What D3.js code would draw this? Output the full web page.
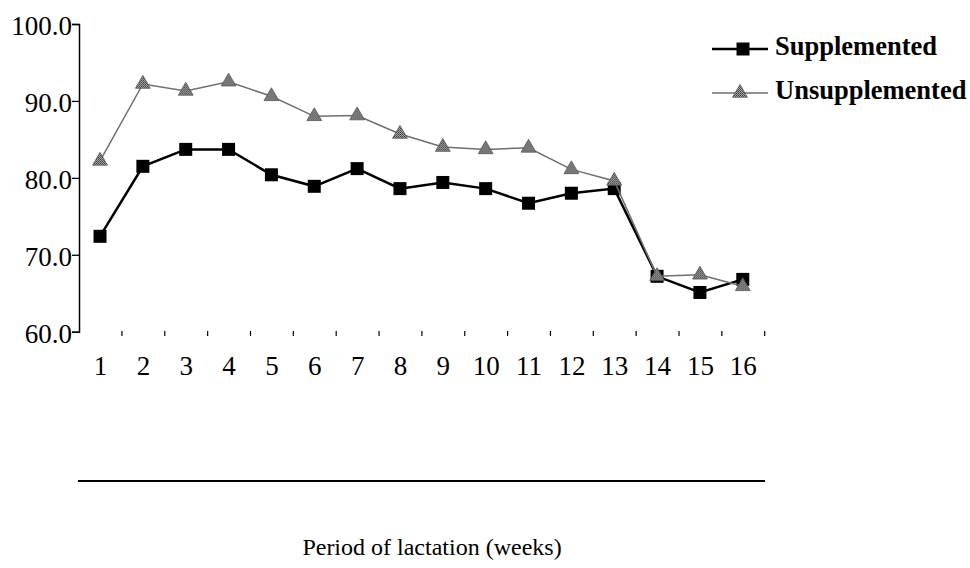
<!DOCTYPE html>
<html lang="en">
<head>
  <meta charset="UTF-8">
  <script src="https://cdn.jsdelivr.net/npm/d3@7"></script>
  <title>Period of lactation</title>
  <style>
    body { margin: 0; background: #fff; }
    text { font-family: "Liberation Serif", "Times New Roman", serif; fill: #000; }
  </style>
</head>
<body>
  <div id="chart"></div>
<script>
// values
var weeks = [1, 2, 3, 4, 5, 6, 7, 8, 9, 10, 11, 12, 13, 14, 15, 16];
var supplemented = [72.4, 81.5, 83.7, 83.7, 80.4, 78.9, 81.2, 78.6, 79.4, 78.6, 76.7, 78.0, 78.6, 67.2, 65.1, 66.8];
var unsupplemented = [82.2, 92.2, 91.3, 92.5, 90.6, 88.0, 88.1, 85.7, 84.0, 83.7, 83.9, 81.1, 79.6, 67.2, 67.4, 65.9];
var yTicks = [60, 70, 80, 90, 100];
var seriesNames = ["Supplemented", "Unsupplemented"];

var W = 970, H = 568;
var svg = d3.select("#chart").append("svg")
  .attr("width", W)
  .attr("height", H);

// dithered grey like the scanned triangles
var defs = svg.append("defs");
var pat = defs.append("pattern")
  .attr("id", "dots")
  .attr("width", 2).attr("height", 2)
  .attr("patternUnits", "userSpaceOnUse");
pat.append("rect").attr("width", 2).attr("height", 2).attr("fill", "#aaa");
pat.append("rect").attr("width", 1).attr("height", 1).attr("fill", "#333");
pat.append("rect").attr("x", 1).attr("y", 1).attr("width", 1).attr("height", 1).attr("fill", "#555");

var x = d3.scaleLinear().domain([0.5, 16.5]).range([78.6, 764.2]);
var y = d3.scaleLinear().domain([60, 100]).range([331.7, 24]);

// y axis
var yAxis = svg.append("g")
  .attr("transform", "translate(79,0)")
  .call(d3.axisLeft(y).tickValues(yTicks).tickSize(7).tickPadding(0).tickFormat(d3.format(".1f")));
yAxis.select(".domain").attr("stroke", "#000").attr("stroke-width", 1.5);
yAxis.selectAll(".tick line").attr("stroke-width", 1.3);
yAxis.selectAll(".tick text")
  .attr("font-size", 27)
  .attr("dy", "0.4em")
  .style("font-family", "Liberation Serif");

// short marks between the weeks, no base line
var xTicks = svg.append("g")
  .attr("transform", "translate(0,331)")
  .call(d3.axisBottom(x).tickValues(d3.range(1.5, 17, 1)).tickSize(5).tickFormat(""));
xTicks.select(".domain").remove();
xTicks.selectAll(".tick line").attr("stroke-width", 1.2);

var xLabels = svg.append("g")
  .attr("transform", "translate(0,354)")
  .call(d3.axisBottom(x).tickValues(weeks).tickSize(0).tickPadding(0));
xLabels.select(".domain").remove();
xLabels.selectAll(".tick text")
  .attr("font-size", 27)
  .attr("dy", "0.78em")
  .style("font-family", "Liberation Serif");

// separator line and axis title
svg.append("line")
  .attr("x1", 78).attr("x2", 765)
  .attr("y1", 481).attr("y2", 481)
  .attr("stroke", "#000").attr("stroke-width", 2);

svg.append("text")
  .attr("x", 432).attr("y", 555)
  .attr("text-anchor", "middle")
  .attr("font-size", 24)
  .text("Period of lactation (weeks)");

var line = d3.line()
  .x(function(d, i) { return x(weeks[i]); })
  .y(function(d) { return y(d); });

var tri = d3.symbol().type(d3.symbolTriangle).size(95);
var sq = 13;

// supplemented
svg.append("path")
  .datum(supplemented)
  .attr("d", line)
  .attr("fill", "none")
  .attr("stroke", "#000")
  .attr("stroke-width", 2.5);
svg.append("g").selectAll("rect")
  .data(supplemented)
  .enter()
  .append("rect")
  .attr("x", function(d, i) { return x(weeks[i]) - sq / 2; })
  .attr("y", function(d) { return y(d) - sq / 2; })
  .attr("width", sq).attr("height", sq)
  .attr("fill", "#000");

// unsupplemented
svg.append("path")
  .datum(unsupplemented)
  .attr("d", line)
  .attr("fill", "none")
  .attr("stroke", "#6e6e6e")
  .attr("stroke-width", 1.5);
svg.append("g").selectAll("path")
  .data(unsupplemented)
  .enter()
  .append("path")
  .attr("d", tri)
  .attr("transform", function(d, i) { return "translate(" + x(weeks[i]) + "," + y(d) + ")"; })
  .attr("fill", "url(#dots)")
  .attr("stroke", "#555")
  .attr("stroke-width", 0.8);

// legend
var legend = svg.append("g");
var rows = legend.selectAll("g")
  .data(seriesNames)
  .enter()
  .append("g")
  .attr("transform", function(d, i) { return "translate(0," + (49 + i * 44) + ")"; });
rows.append("line")
  .attr("x1", 712).attr("x2", 768)
  .attr("stroke", function(d, i) { return i == 0 ? "#000" : "#6e6e6e"; })
  .attr("stroke-width", function(d, i) { return i == 0 ? 2.5 : 1.5; });
rows.filter(function(d, i) { return i == 0; })
  .append("rect")
  .attr("x", 743 - sq / 2).attr("y", -sq / 2)
  .attr("width", sq).attr("height", sq)
  .attr("fill", "#000");
rows.filter(function(d, i) { return i == 1; })
  .append("path")
  .attr("d", tri)
  .attr("transform", "translate(740,0)")
  .attr("fill", "url(#dots)")
  .attr("stroke", "#555")
  .attr("stroke-width", 0.8);
rows.append("text")
  .attr("x", 775)
  .attr("y", 6)
  .attr("font-size", 26.5)
  .attr("font-weight", "bold")
  .text(function(d) { return d; });
</script>
</body>
</html>
